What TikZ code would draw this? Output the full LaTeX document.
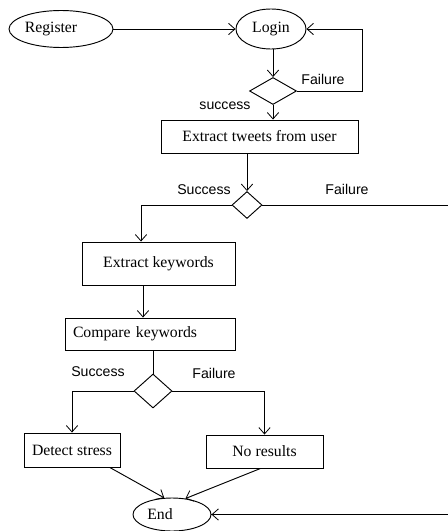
\documentclass[tikz,border=0pt]{standalone}
\usepackage{fontspec}
\setmainfont{Liberation Serif}
\newfontfamily\lblfont{Liberation Sans}
\usetikzlibrary{arrows.meta,shapes.geometric}

\begin{document}
\begin{tikzpicture}[
    x=0.75pt, y=-0.75pt,
    line width=0.7pt,
    font=\fontsize{11.8}{14}\selectfont,
    term/.style={ellipse, draw=black, inner sep=0pt},
    box/.style={rectangle, draw=black, align=center, inner sep=0pt},
    decision/.style={diamond, draw=black, inner sep=0pt},
    lbl/.style={font=\lblfont\fontsize{10.6}{12}\selectfont},
    arrow/.style={-{Straight Barb[length=1.7mm, width=3mm, line width=0.6pt]}}
]
\useasboundingbox (0,0) rectangle (447,531);

% nodes
\node[term, minimum width=104*0.75pt, minimum height=37*0.75pt] (register) at (61,29) {Register\hspace*{15pt}};
\node[term, minimum width=70*0.75pt, minimum height=40*0.75pt] (login) at (271,29) {Login};
\node[decision, minimum width=47*0.75pt, minimum height=27*0.75pt] (dlogin) at (273,91) {};
\node[box, minimum width=197*0.75pt, minimum height=33*0.75pt] (tweets) at (259.5,136.5) {Extract tweets from user};
\node[decision, minimum width=30*0.75pt, minimum height=27*0.75pt] (dtweets) at (247,205) {};
\node[box, minimum width=153*0.75pt, minimum height=43*0.75pt] (keywords) at (158.5,263.5) {Extract keywords};
\node[box, text width=154*0.75pt, align=left, inner xsep=8*0.75pt, minimum height=32*0.75pt] (compare) at (150,334) {Compare keywords};
\node[decision, minimum width=38*0.75pt, minimum height=34*0.75pt] (dcompare) at (153,391) {};
\node[box, minimum width=96*0.75pt, minimum height=34*0.75pt] (stress) at (72,450) {Detect stress};
\node[box, minimum width=117*0.75pt, minimum height=33*0.75pt] (noresult) at (264.5,451.5) {No results};
\node[term, minimum width=78*0.75pt, minimum height=33*0.75pt] (finish) at (172,514.5) {End\hspace*{18pt}};

% branch labels
\node[lbl] (lfail1) at (323,79) {Failure};
\node[lbl] (lsucc1) at (225,106) {success};
\node[lbl] (lsucc2) at (204,190) {Success};
\node[lbl] (lfail2) at (347,189) {Failure};
\node[lbl] (lsucc3) at (98,372) {Success};
\node[lbl] (lfail3) at (214,373) {Failure};

\coordinate (loopr) at (362,0);
\coordinate (kin) at (141,0);
\coordinate (cin) at (143,0);
\coordinate (outr) at (454,0);

% connectors
\draw[arrow] (register) -- (login);
\draw[arrow] (login.south -| dlogin.north) -- (dlogin.north);
\draw[arrow] (dlogin.east) -- (dlogin.east -| loopr) |- (login.east);
\draw[arrow] (dlogin.south) -- (dlogin.south |- tweets.north);
\draw[arrow] (tweets.south -| dtweets.north) -- (dtweets.north);
\draw[arrow] (dtweets.west) -| (kin |- keywords.north);
\draw (dtweets.east) -- (dtweets.east -| outr) |- (finish.east);
\draw[arrow] (outr |- finish.east) -- (finish.east);
\draw[arrow] (cin |- keywords.south) -- (cin |- compare.north);
\draw (compare.south -| dcompare.north) -- (dcompare.north);
\draw[arrow] (dcompare.west) -| (stress.north);
\draw[arrow] (dcompare.east) -| (noresult.north);
\draw[arrow] ([xshift=-8pt]stress.south east) -- (finish.115);
\draw[arrow] ([xshift=-3pt]noresult.south) -- (finish.50);
\end{tikzpicture}
\end{document}
